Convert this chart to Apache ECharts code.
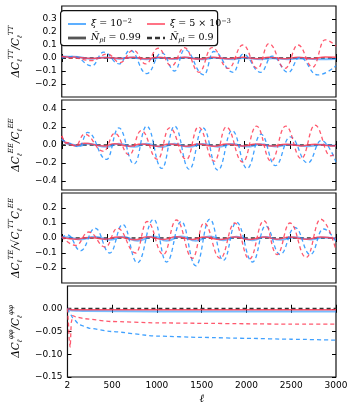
<!DOCTYPE html>
<html><head><meta charset="utf-8">
<script src="https://cdn.jsdelivr.net/npm/echarts@6/dist/echarts.min.js"></script>
<style>html,body{margin:0;padding:0;background:#fff}#c{width:353px;height:410px}</style>
</head><body><div id="c"></div>
<script>
// ---------- tick labels ----------
const xTicks = [2, 500, 1000, 1500, 2000, 2500, 3000];
const yTicksTT = [-0.2, -0.1, 0.0, 0.1, 0.2, 0.3];
const yTicksEE = [-0.4, -0.2, 0.0, 0.2, 0.4];
const yTicksTE = [-0.2, -0.1, 0.0, 0.1, 0.2];
const yTicksPP = [-0.15, -0.10, -0.05, 0.00];

// ---------- TT panel ----------
const ttEllBlueDash = [2,137,330,460,630,750,930,1095,1237,1345,1556,1663,1876,1982,2177,2302,2478,2603,2798,3000];
const ttBlueDash    = [0,0.012,-0.06,0.045,-0.045,0.06,-0.12,0.04,-0.10,0.065,-0.13,0.05,-0.11,0.03,-0.11,0.015,-0.11,0.005,-0.13,-0.06];
const ttBlueSolid   = [0.012,0.01,-0.006,0.004,-0.005,0.004,-0.01,0.002,-0.008,0.003,-0.01,0.002,-0.009,0,-0.009,-0.002,-0.009,-0.003,-0.01,-0.008];
const ttEllRedDash  = [2,120,330,500,640,785,920,1055,1201,1343,1503,1645,1823,1982,2142,2266,2443,2585,2745,2880,3000];
const ttRedDash     = [0.01,0,-0.02,0.03,-0.035,0.06,-0.045,0.075,-0.06,0.08,-0.11,0.08,-0.08,0.10,-0.08,0.11,-0.08,0.10,-0.07,0.14,0.09];
const ttRedSolid    = [0.012,0.008,-0.003,0.003,-0.004,0.005,-0.005,0.006,-0.006,0.005,-0.008,0.005,-0.006,0.006,-0.006,0.006,-0.005,0.006,-0.005,0.008,0.006];

// ---------- EE panel ----------
const eeEllBlueDash = [2,80,190,285,492,625,794,930,1096,1235,1396,1545,1709,1865,2028,2180,2337,2500,2691,2840,3000];
const eeBlueDash    = [0.07,0.02,-0.02,0.14,-0.16,0.19,-0.21,0.21,-0.26,0.21,-0.27,0.19,-0.28,0.16,-0.26,0.12,-0.23,0.09,-0.20,0.05,-0.19];
const eeBlueSolid   = [0.07,0.01,-0.01,0.015,-0.02,0.015,-0.02,0.015,-0.022,0.015,-0.02,0.012,-0.02,0.01,-0.018,0.008,-0.016,0.006,-0.014,0.002,-0.012];
const eeEllRedDash  = [2,50,150,250,460,580,740,870,1050,1180,1365,1495,1670,1800,1980,2130,2290,2450,2620,2770,2940,3000];
const eeRedDash     = [0.10,0.03,-0.01,0.12,-0.07,0.13,-0.11,0.16,-0.16,0.19,-0.16,0.20,-0.18,0.20,-0.19,0.21,-0.18,0.21,-0.15,0.22,-0.12,-0.09];
const eeRedSolid    = [0.10,0.02,-0.005,0.02,-0.012,0.015,-0.015,0.012,-0.015,0.012,-0.015,0.01,-0.015,0.01,-0.012,0.01,-0.012,0.008,-0.01,0.008,-0.01,-0.008];

// ---------- TE panel ----------
const teEllBlueDash = [2,66,208,367,527,669,829,1006,1148,1308,1467,1620,1769,1911,2088,2230,2390,2550,2720,2862,3000];
const teBlueDash    = [0,0.02,-0.085,0.065,-0.10,0.09,-0.165,0.125,-0.16,0.11,-0.185,0.125,-0.15,0.105,-0.16,0.08,-0.11,0.07,-0.11,0.06,-0.025];
const teBlueSolid   = [0,0.005,-0.01,0.008,-0.012,0.008,-0.018,0.01,-0.018,0.01,-0.018,0.01,-0.015,0.008,-0.015,0.006,-0.012,0.005,-0.01,0.004,-0.003];
const teEllRedDash  = [2,155,296,480,610,811,935,1113,1254,1432,1556,1734,1893,2053,2212,2355,2497,2674,2833,3000];
const teRedDash     = [0.01,-0.05,0.04,-0.06,0.065,-0.10,0.11,-0.11,0.12,-0.135,0.10,-0.135,0.10,-0.14,0.115,-0.11,0.10,-0.13,0.125,-0.08];
const teRedSolid    = [0.005,-0.008,0.004,-0.008,0.006,-0.012,0.008,-0.01,0.008,-0.01,0.006,-0.01,0.006,-0.01,0.006,-0.008,0.006,-0.008,0.006,-0.005];

// ---------- phi-phi panel ----------
const ppEllBlueDash = [2,30,60,134,250,488,1000,1500,2000,2500,3000];
const ppBlueDash    = [0,-0.01,-0.02,-0.035,-0.043,-0.05,-0.06,-0.063,-0.065,-0.067,-0.069];
const ppEllRedDash  = [2,12,22,32,45,60,98,200,488,1000,1500,2000,2500,3000];
const ppRedDash     = [0,-0.03,-0.07,-0.085,-0.03,-0.015,-0.018,-0.022,-0.028,-0.031,-0.032,-0.033,-0.034,-0.034];
const ppEllSolid    = [2,50,200,1000,3000];
const ppBlueSolid   = [0,-0.004,-0.005,-0.006,-0.006];
const ppRedSolid    = [0,-0.002,-0.002,-0.002,-0.002];

const zeroEll = [2, 3000];
const zeroVal = [0, 0];

// ---------- styling ----------
const BLUE = 'rgba(30,144,255,0.85)';
const BLUE_S = 'rgba(30,144,255,0.6)';
const RED = 'rgba(255,60,85,0.85)';
const RED_S = 'rgba(255,60,85,0.85)';
const DARK = '#333';
const DASH = [4, 3];

const panels = [
  {top: 6,   h: 91, min: -0.3, max: 0.4, ticks: yTicksTT, dec: 1,
   name: '{n|ΔC}{sb|ℓ}{sp|TT}{n|/C}{sb|ℓ}{sp|TT}', gap: 27,
   sets: [[ttEllBlueDash, ttBlueSolid, ttEllRedDash, ttRedSolid], [ttEllBlueDash, ttBlueDash, ttEllRedDash, ttRedDash]]},
  {top: 100, h: 90, min: -0.5, max: 0.5, ticks: yTicksEE, dec: 1,
   name: '{n|ΔC}{sb|ℓ}{sp|EE}{n|/C}{sb|ℓ}{sp|EE}', gap: 27,
   sets: [[eeEllBlueDash, eeBlueSolid, eeEllRedDash, eeRedSolid], [eeEllBlueDash, eeBlueDash, eeEllRedDash, eeRedDash]]},
  {top: 193, h: 90, min: -0.3, max: 0.3, ticks: yTicksTE, dec: 1,
   name: '{n|ΔC}{sb|ℓ}{sp|TE}{n|/√}{n|C}{sb|ℓ}{sp|TT}{n|C}{sb|ℓ}{sp|EE}', gap: 27,
   sets: [[teEllBlueDash, teBlueSolid, teEllRedDash, teRedSolid], [teEllBlueDash, teBlueDash, teEllRedDash, teRedDash]]},
  {top: 286, h: 91, min: -0.15, max: 0.05, ticks: yTicksPP, dec: 2,
   name: '{n|ΔC}{sb|ℓ}{sp|φφ}{n|/C}{sb|ℓ}{sp|φφ}', gap: 31,
   sets: [[ppEllSolid, ppBlueSolid, ppEllSolid, ppRedSolid], [ppEllBlueDash, ppBlueDash, ppEllRedDash, ppRedDash]]}
];

const fmtY = dec => v => (v < 0 ? '\u2212' : '') + Math.abs(v).toFixed(dec);
const tickFont = {fontFamily: 'DejaVu Sans', fontSize: 9, color: '#000'};
const richName = {
  n:  {fontFamily: 'DejaVu Serif', fontStyle: 'italic', fontSize: 10.5, lineHeight: 16, verticalAlign: 'middle'},
  sb: {fontFamily: 'DejaVu Serif', fontStyle: 'italic', fontSize: 7, lineHeight: 8, verticalAlign: 'bottom'},
  sp: {fontFamily: 'DejaVu Serif', fontStyle: 'italic', fontSize: 7, lineHeight: 8, verticalAlign: 'top'}
};

const grid = [], xAxis = [], yAxis = [], series = [];
panels.forEach((p, gi) => {
  grid.push({left: 54, right: 17, top: p.top, height: p.h, show: true, borderColor: '#111', borderWidth: 1.2, backgroundColor: 'transparent'});
  const last = gi === panels.length - 1;
  const tick = {show: true, inside: true, length: 4, customValues: xTicks, lineStyle: {color: '#000', width: 1}};
  xAxis.push({type: 'value', gridIndex: gi, min: 2, max: 3000, position: 'bottom',
    axisLine: {show: false}, splitLine: {show: false}, axisTick: tick,
    axisLabel: {show: last, customValues: xTicks, margin: 4, formatter: v => String(v), ...tickFont},
    name: last ? 'ℓ' : '', nameLocation: 'middle', nameGap: 17,
    nameTextStyle: {fontFamily: 'DejaVu Serif', fontStyle: 'italic', fontSize: 11, color: '#000'}});
  xAxis.push({type: 'value', gridIndex: gi, min: 2, max: 3000, position: 'top',
    axisLine: {show: false}, splitLine: {show: false}, axisTick: tick, axisLabel: {show: false}});
  const ytick = {show: true, inside: true, length: 4, customValues: p.ticks, lineStyle: {color: '#000', width: 1}};
  yAxis.push({type: 'value', gridIndex: gi, min: p.min, max: p.max, position: 'left',
    axisLine: {show: false}, splitLine: {show: false}, axisTick: ytick,
    axisLabel: {customValues: p.ticks, formatter: fmtY(p.dec), margin: 5, ...tickFont},
    name: p.name, nameLocation: 'middle', nameRotate: 90, nameGap: p.gap,
    nameTextStyle: {color: '#000', fontFamily: 'DejaVu Serif', fontSize: 10.5, rich: richName}});
  yAxis.push({type: 'value', gridIndex: gi, min: p.min, max: p.max, position: 'right',
    axisLine: {show: false}, splitLine: {show: false}, axisTick: ytick, axisLabel: {show: false}});

  const mk = (L, V, color, dashed, w, z) => ({
    type: 'line', xAxisIndex: gi * 2, yAxisIndex: gi * 2, z: z,
    data: L.map((l, i) => [l, V[i]]), symbol: 'none', showSymbol: false,
    smooth: gi === 3 ? 0.2 : 0.45, smoothMonotone: 'x', silent: true, animation: false,
    lineStyle: {color: color, width: w, type: dashed ? DASH : 'solid'}
  });
  const [s, d] = p.sets;
  series.push(mk(zeroEll, zeroVal, DARK, true, gi === 3 ? 1.8 : 1.5, 2));
  series.push(mk(s[0], s[1], BLUE_S, false, 2, 3));
  series.push(mk(s[2], s[3], RED_S, false, 1.5, 4));
  series.push(mk(d[0], d[1], BLUE, true, 1.3, 5));
  series.push(mk(d[2], d[3], RED, true, 1.3, 6));
});

// legend-only series
const legendItems = [
  {name: 'xi1', color: 'rgba(30,144,255,0.9)', icon: 'path://M0,0H18V1.6H0Z'},
  {name: 'xi2', color: 'rgba(255,60,85,0.9)',  icon: 'path://M0,0H18V1.6H0Z'},
  {name: 'n99', color: '#555',                 icon: 'path://M0,0H18V2.8H0Z'},
  {name: 'n9',  color: '#333',                 icon: 'path://M0,0H5V2.4H0ZM8,0H13V2.4H8ZM16,0H18V2.4H16Z'}
];
legendItems.forEach(it => series.push({type: 'line', name: it.name, xAxisIndex: 0, yAxisIndex: 0, data: [],
  symbol: 'none', lineStyle: {color: it.color}, itemStyle: {color: it.color}}));
const legData = names => names.map(n => {
  const it = legendItems.find(x => x.name === n);
  return {name: n, icon: it.icon, itemStyle: {color: it.color, borderWidth: 0}};
});

const legendText = {
  xi1: '{i|ξ} = 10{s|−2}',
  xi2: '{i|ξ} = 5 × 10{s|−3}',
  n99: '{i|Ñ}{b|pl} = 0.99',
  n9:  '{i|Ñ}{b|pl} = 0.9'
};
const legRich = {
  i: {fontFamily: 'DejaVu Serif', fontStyle: 'italic', fontSize: 9.5, lineHeight: 12},
  s: {fontFamily: 'DejaVu Serif', fontSize: 6.5, lineHeight: 7, verticalAlign: 'top'},
  b: {fontFamily: 'DejaVu Serif', fontStyle: 'italic', fontSize: 6.5, lineHeight: 7, verticalAlign: 'bottom'}
};
const legBase = {orient: 'vertical', top: 13, itemWidth: 18, itemHeight: 10, itemGap: 2, z: 20,
  selectedMode: false,
  formatter: n => legendText[n],
  textStyle: {fontFamily: 'DejaVu Serif', fontSize: 9.5, color: '#000', lineHeight: 12, rich: legRich}};

const option = {
  animation: false,
  backgroundColor: '#fff',
  grid, xAxis, yAxis, series,
  legend: [
    Object.assign({}, legBase, {left: 63, data: legData(['xi1', 'n99'])}),
    Object.assign({}, legBase, {left: 142, data: legData(['xi2', 'n9'])})
  ],
  graphic: [{type: 'rect', left: 60, top: 10, z: 15,
    shape: {width: 157, height: 35, r: 3},
    style: {fill: '#fff', stroke: '#111', lineWidth: 1.2}}]
};
const chart = echarts.init(document.getElementById('c'), null, {renderer: 'canvas'});
chart.setOption(option);
</script>
</body></html>
